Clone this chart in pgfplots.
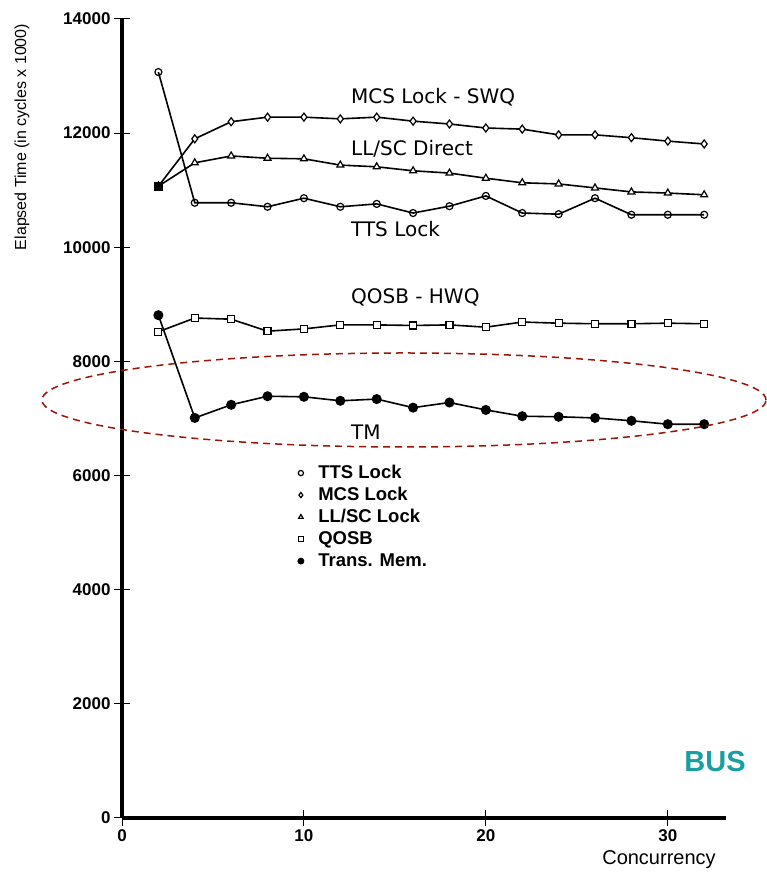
\documentclass[border=0pt]{standalone}
\usepackage{pgfplots}
\pgfplotsset{compat=1.18}
\usepackage{fontspec}
\setmainfont{Liberation Sans}
\newfontfamily\dejavu{DejaVu Sans}
\definecolor{ellred}{HTML}{9A1408}
\definecolor{busteal}{HTML}{1A9FA0}
\begin{document}
\begin{tikzpicture}
\useasboundingbox (0pt,0pt) rectangle (766pt,872pt);
\begin{axis}[
 at={(122pt,54pt)}, anchor=origin,
 scale only axis, width=604pt, height=799pt,
 xmin=0, xmax=33.2, ymin=0, ymax=14000,
 axis x line*=bottom, axis y line*=left,
 axis line style={line width=3.6pt, black},
 every outer x axis line/.append style={line width=3.6pt},
 every outer y axis line/.append style={line width=3.6pt},
 xtick={0,10,20,30}, ytick={0,2000,...,14000},
 scaled y ticks=false,
 /pgf/number format/1000 sep={},
 /pgf/number format/assume math mode=true,
 ticklabel style={font=\fontsize{17}{20}\selectfont\bfseries},
 major tick length=16pt,
 tick align=center,
 major tick style={line width=1pt, black},
 clip=false,
 legend style={at={(axis cs:9.3,6240)}, anchor=north west, draw=none, fill=none,
   font=\fontsize{18.5}{21}\selectfont\bfseries, row sep=4pt,
   nodes={inner sep=1pt, text height=13pt, text depth=3pt}},
 legend cell align=left,
 legend image code/.code={\path (0cm,0cm) (0.75cm,0cm); \draw[#1, mark size=2.6pt] plot coordinates {(0.2cm,0cm)};},
 every axis plot/.append style={line width=1.6pt, black},
]
\addplot[mark=o, mark size=3.5pt, mark options={fill=white, line width=1.2pt}] coordinates {(2,13070)(4,10780)(6,10780)(8,10710)(10,10860)(12,10710)(14,10760)(16,10600)(18,10720)(20,10900)(22,10600)(24,10580)(26,10860)(28,10570)(30,10570)(32,10570)};
\addplot[mark=diamond*, mark size=4pt, mark options={fill=white, line width=1.2pt}] coordinates {(2,11070)(4,11900)(6,12200)(8,12280)(10,12280)(12,12250)(14,12280)(16,12210)(18,12160)(20,12090)(22,12070)(24,11970)(26,11970)(28,11920)(30,11860)(32,11810)};
\addplot[mark=triangle*, mark size=4pt, mark options={fill=white, line width=1.2pt}] coordinates {(2,11070)(4,11480)(6,11600)(8,11560)(10,11550)(12,11440)(14,11410)(16,11340)(18,11300)(20,11210)(22,11130)(24,11110)(26,11040)(28,10970)(30,10950)(32,10920)};
\addplot[mark=square*, mark size=3.5pt, mark options={fill=white, line width=1.2pt}] coordinates {(2,8520)(4,8760)(6,8740)(8,8530)(10,8570)(12,8640)(14,8640)(16,8630)(18,8640)(20,8600)(22,8690)(24,8670)(26,8660)(28,8660)(30,8670)(32,8660)};
\addplot[mark=*, mark size=4.2pt, mark options={fill=black}] coordinates {(2,8810)(4,7010)(6,7240)(8,7390)(10,7380)(12,7310)(14,7340)(16,7190)(18,7280)(20,7150)(22,7040)(24,7030)(26,7010)(28,6960)(30,6900)(32,6900)};
\addplot[only marks, mark=square*, mark size=3.5pt, mark options={fill=black}, forget plot] coordinates {(2,11070)};
\legend{TTS Lock, MCS Lock, LL/SC Lock, QOSB, Trans. Mem.}
\node[anchor=west, font=\dejavu\fontsize{20}{24}\selectfont] at (axis cs:12.4,12630) {MCS Lock - SWQ};
\node[anchor=west, font=\dejavu\fontsize{20}{24}\selectfont] at (axis cs:12.4,11720) {LL/SC Direct};
\node[anchor=west, font=\dejavu\fontsize{20}{24}\selectfont] at (axis cs:12.4,10320) {TTS Lock};
\node[anchor=west, font=\dejavu\fontsize{20}{24}\selectfont] at (axis cs:12.4,9130) {QOSB - HWQ};
\node[anchor=west, font=\dejavu\fontsize{20}{24}\selectfont] at (axis cs:12.4,6760) {TM};
\end{axis}
\node[rotate=90, font=\fontsize{16}{19}\selectfont] at (22pt,735pt) {Elapsed Time (in cycles x 1000)};
\node[font=\fontsize{20}{23}\selectfont] at (659pt,12pt) {Concurrency};
\node[font=\fontsize{29}{32}\selectfont\bfseries, text=busteal] at (715pt,110pt) {BUS};
\draw[ellred, dash pattern=on 7pt off 5pt, line width=1.5pt] (404pt,472pt) ellipse [x radius=362pt, y radius=47pt];
\end{tikzpicture}
\end{document}
